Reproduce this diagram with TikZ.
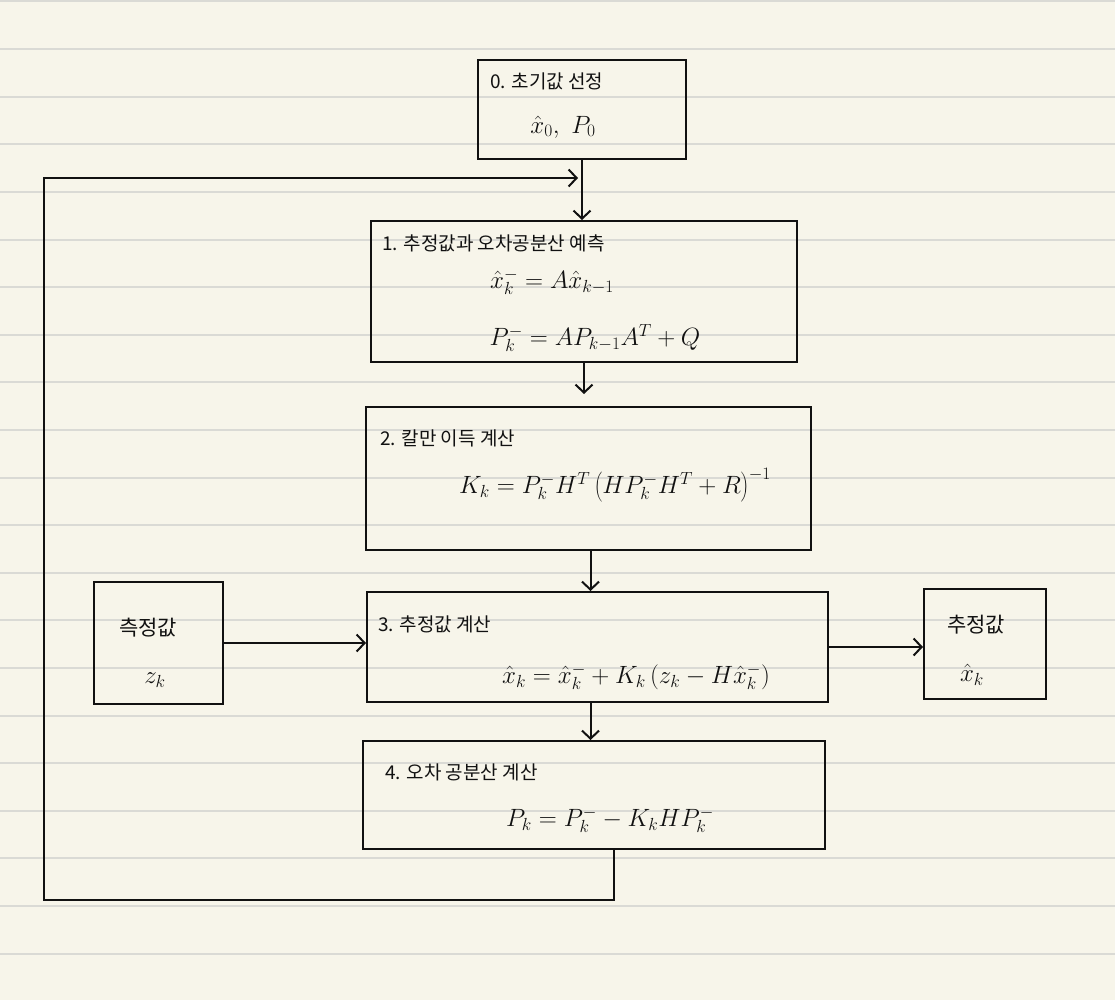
\RequirePackage{fix-cm}
\documentclass[tikz,border=0pt]{standalone}
\usepackage{fontspec}
\newfontfamily\kr{Noto Sans CJK KR}
\usetikzlibrary{arrows.meta}
\definecolor{paper}{HTML}{F7F5EA}
\definecolor{rule}{HTML}{DADAD5}
\definecolor{ink}{HTML}{111111}
\begin{document}
\begin{tikzpicture}[x=1pt,y=-1pt,
  box/.style={draw=ink,line width=2pt,inner sep=0pt,anchor=north west},
  title/.style={anchor=west,inner sep=0pt,font=\kr\fontsize{19}{22}\selectfont,text=ink},
  formula/.style={inner sep=0pt,font=\fontsize{25}{29}\selectfont,text=ink},
  label/.style={inner sep=0pt,font=\kr\fontsize{21}{24}\selectfont,text=ink},
  conn/.style={draw=ink,line width=2pt,-{Straight Barb[length=8pt,width=17pt]}}]
\fill[paper] (0,0) rectangle (1115,1000);
\useasboundingbox (0,0) rectangle (1115,1000);
\foreach \n in {0,...,20}{
  \draw[rule,line width=2pt] (0,1.5+47.6*\n) -- (1115,1.5+47.6*\n);
}
% boxes
\node[box,minimum width=208pt,minimum height=99pt] (b0) at (477,59) {};
\node[box,minimum width=426pt,minimum height=141pt] (b1) at (370,220) {};
\node[box,minimum width=445pt,minimum height=143pt] (b2) at (365,406) {};
\node[box,minimum width=129pt,minimum height=122pt] (meas) at (93,581) {};
\node[box,minimum width=461pt,minimum height=110pt] (b3) at (366,591) {};
\node[box,minimum width=122pt,minimum height=110pt] (out) at (923,588) {};
\node[box,minimum width=462pt,minimum height=108pt] (b4) at (362,740) {};
% texts
\node[title] (t0) at (490,81) {0. 초기값 선정};
\node[formula] (f0) at (563,127) {$\hat{x}_0,\ P_0$};
\node[title] (t1) at (382,243) {1. 추정값과 오차공분산 예측};
\node[formula] (f1a) at (552,282) {$\hat{x}^{-}_{k} = A\hat{x}_{k-1}$};
\node[formula] (f1b) at (595,338) {$P^{-}_{k} = A P_{k-1} A^T + Q$};
\node[title] (t2) at (380,438) {2. 칼만 이득 계산};
\node[formula] (f2) at (615,485) {$K_k = P^{-}_{k} H^T \left(H P^{-}_{k} H^T + R\right)^{-1}$};
\node[label] (m1) at (148,628) {측정값};
\node[formula] (m2) at (155,680) {$z_k$};
\node[title] (t3) at (378,624) {3. 추정값 계산};
\node[formula] (f3) at (636,677) {$\hat{x}_k = \hat{x}^{-}_{k} + K_k\left(z_k - H\hat{x}^{-}_{k}\right)$};
\node[label] (o1) at (976,625) {추정값};
\node[formula] (o2) at (972,675) {$\hat{x}_k$};
\node[title] (t4) at (385,772) {4. 오차 공분산 계산};
\node[formula] (f4) at (610,820) {$P_k = P^{-}_{k} - K_k H P^{-}_{k}$};
% connectors
\coordinate (cbl) at (44,900);
\coordinate (cin) at (578,178);
\draw[conn] (b0.south) -- (b0.south |- b1.north);
\draw[conn,shorten >=12pt] (b1.south) -- (b1.south |- b2.north);
\draw[conn] ([xshift=2pt]b2.south) -- ([xshift=2pt]b2.south |- b3.north);
\draw[conn] ([xshift=2pt]b2.south |- b3.south) -- ([xshift=2pt]b2.south |- b4.north);
\draw[conn] (meas.east) -- (meas.east -| b3.west);
\draw[conn] (b3.east) -- (b3.east -| out.west);
\draw[conn] ([xshift=20pt]b4.south) |- (cbl) |- (cin);
\end{tikzpicture}
\end{document}
